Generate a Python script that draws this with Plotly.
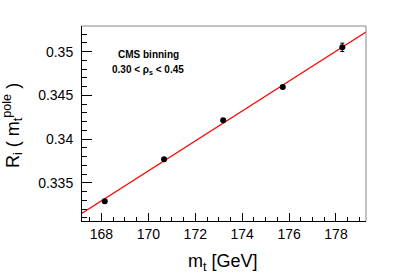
import numpy as np
import plotly.graph_objects as go

mt = [168.14, 170.67, 173.19, 175.73, 178.27]
ri = [0.33290, 0.33771, 0.34218, 0.34596, 0.35050]
ri_err = [0.00020, 0.00018, 0.00018, 0.00016, 0.00048]
x_range = [167.17, 179.28]
y_range = [0.33065, 0.35294]
y_ticks = [0.335, 0.34, 0.345, 0.35]
y_ticklabels = ["0.335", "0.34", "0.345", "0.35"]
x_ticks = [168, 170, 172, 174, 176, 178]

slope, icpt = np.polyfit(mt, ri, 1, w=1.0 / np.array(ri_err))
fx = np.array(x_range)
fy = slope * fx + icpt

W, H = 407, 276
L, R, T, B = 82, 41, 26, 55
pw, ph = W - L - R, H - T - B


def px(x):
    return (x - L) / pw


def py(y):
    return (H - B - y) / ph


fig = go.Figure()
fig.add_trace(go.Scatter(x=fx, y=fy, mode="lines",
                         line=dict(color="#ff0000", width=1.3),
                         showlegend=False, hoverinfo="skip"))
fig.add_trace(go.Scatter(x=mt, y=ri, mode="markers",
                         marker=dict(color="black", size=6),
                         error_y=dict(type="data", array=ri_err, color="black",
                                      thickness=1, width=2),
                         showlegend=False))

font = "Liberation Sans, Arial, Helvetica, sans-serif"
fig.update_layout(
    width=W, height=H,
    margin=dict(l=L, r=R, t=T, b=B),
    paper_bgcolor="white", plot_bgcolor="white",
    font=dict(family=font, color="black"),
    xaxis=dict(range=x_range, tickvals=x_ticks, ticks="inside", ticklen=8,
               tickwidth=1, tickcolor="black", showgrid=False, zeroline=False,
               showline=True, linecolor="black", linewidth=1, automargin=False,
               tickfont=dict(size=14, family=font),
               minor=dict(dtick=0.5, tick0=168, ticks="inside", ticklen=4,
                          tickcolor="black", showgrid=False)),
    yaxis=dict(range=y_range, tickvals=y_ticks, ticktext=y_ticklabels,
               ticks="inside", ticklen=10, tickwidth=1, tickcolor="black",
               showgrid=False, zeroline=False, showline=True, linecolor="black",
               linewidth=1, tickfont=dict(size=14, family=font), automargin=False,
               ticklabelstandoff=5,
               minor=dict(dtick=0.001, tick0=0.33, ticks="inside", ticklen=5,
                          tickcolor="black", showgrid=False)),
    shapes=[dict(type="line", xref="paper", yref="paper", x0=0, x1=1, y0=1, y1=1,
                 line=dict(color="#888888", width=1)),
            dict(type="line", xref="paper", yref="paper", x0=1, x1=1, y0=0, y1=1,
                 line=dict(color="#888888", width=1))],
    annotations=[
        dict(text="<b>CMS binning</b>", xref="paper", yref="paper",
             x=px(148), y=py(54), showarrow=False,
             font=dict(size=10, family=font), xanchor="center", yanchor="middle"),
        dict(text="<b>0.30 < ρ<sub>s</sub> < 0.45</b>", xref="paper", yref="paper",
             x=px(148), y=py(70), showarrow=False,
             font=dict(size=10, family=font), xanchor="center", yanchor="middle"),
        dict(text="m<sub>t</sub> [GeV]", xref="paper", yref="paper",
             x=px(223), y=py(262), showarrow=False,
             font=dict(size=18, family=font), xanchor="center", yanchor="middle"),
        dict(text="R<sub>i</sub> ( m<sub>t</sub><sup>pole</sup> )", xref="paper",
             yref="paper", x=px(13), y=py(126), showarrow=False, textangle=-90,
             font=dict(size=18, family=font), xanchor="center", yanchor="middle"),
    ],
)
fig.write_html("out.html",
               config={"displayModeBar": False},
               post_script="document.body.style.margin='0px';")
